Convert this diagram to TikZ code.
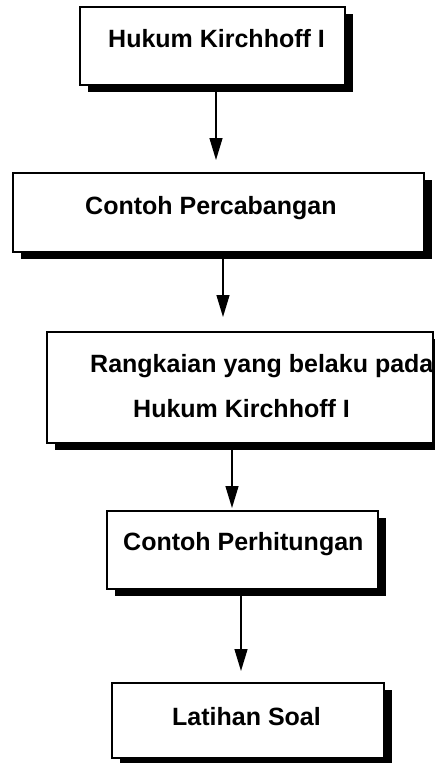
\documentclass[tikz,border=0pt]{standalone}
\usepackage{fontspec}
\setmainfont{Liberation Sans}
\usetikzlibrary{shadows,arrows.meta,calc}

\begin{document}
\begin{tikzpicture}[x=1pt,y=-1pt,
    box/.style={draw,line width=1.5pt,fill=white,rectangle,inner sep=0pt,
        drop shadow={shadow xshift=8pt,shadow yshift=-7pt,fill=black,opacity=1}},
    lbl/.style={font=\fontsize{25}{30}\selectfont\bfseries,inner sep=0pt,anchor=base west},
    arr/.style={line width=1.3pt,-{Triangle[length=22pt,width=13pt]}}]
    \useasboundingbox (0,0) rectangle (435,763);

    % Boxes
    \node[box,minimum width=265pt,minimum height=78pt] (B1) at (212.5,46) {};
    \node[box,minimum width=411pt,minimum height=79pt] (B2) at (218.5,212.5) {};
    \node[box,minimum width=386pt,minimum height=111pt] (B3) at (240,387.5) {};
    \node[box,minimum width=271pt,minimum height=78pt] (B4) at (242.5,550) {};
    \node[box,minimum width=272pt,minimum height=75pt] (B5) at (248,720.5) {};

    % Labels
    \node[lbl] (L1) at (108,47) {Hukum Kirchhoff I};
    \node[lbl] (L2) at (85,214) {Contoh Percabangan};
    \node[lbl] (L3a) at (90,372) {Rangkaian yang belaku pada};
    \node[lbl] (L3b) at (133,417) {Hukum Kirchhoff I};
    \node[lbl] (L4) at (123,550) {Contoh Perhitungan};
    \node[lbl] (L5) at (172,725) {Latihan Soal};

    % Arrows
    \coordinate (A1) at (216,160);
    \coordinate (A2) at (223,317);
    \coordinate (A3) at (232,508);
    \coordinate (A4) at (241,671);
    \draw[arr] (B1.south -| A1) -- (A1);
    \draw[arr] (B2.south -| A2) -- (A2);
    \draw[arr] (B3.south -| A3) -- (A3);
    \draw[arr] (B4.south -| A4) -- (A4);
\end{tikzpicture}
\end{document}
